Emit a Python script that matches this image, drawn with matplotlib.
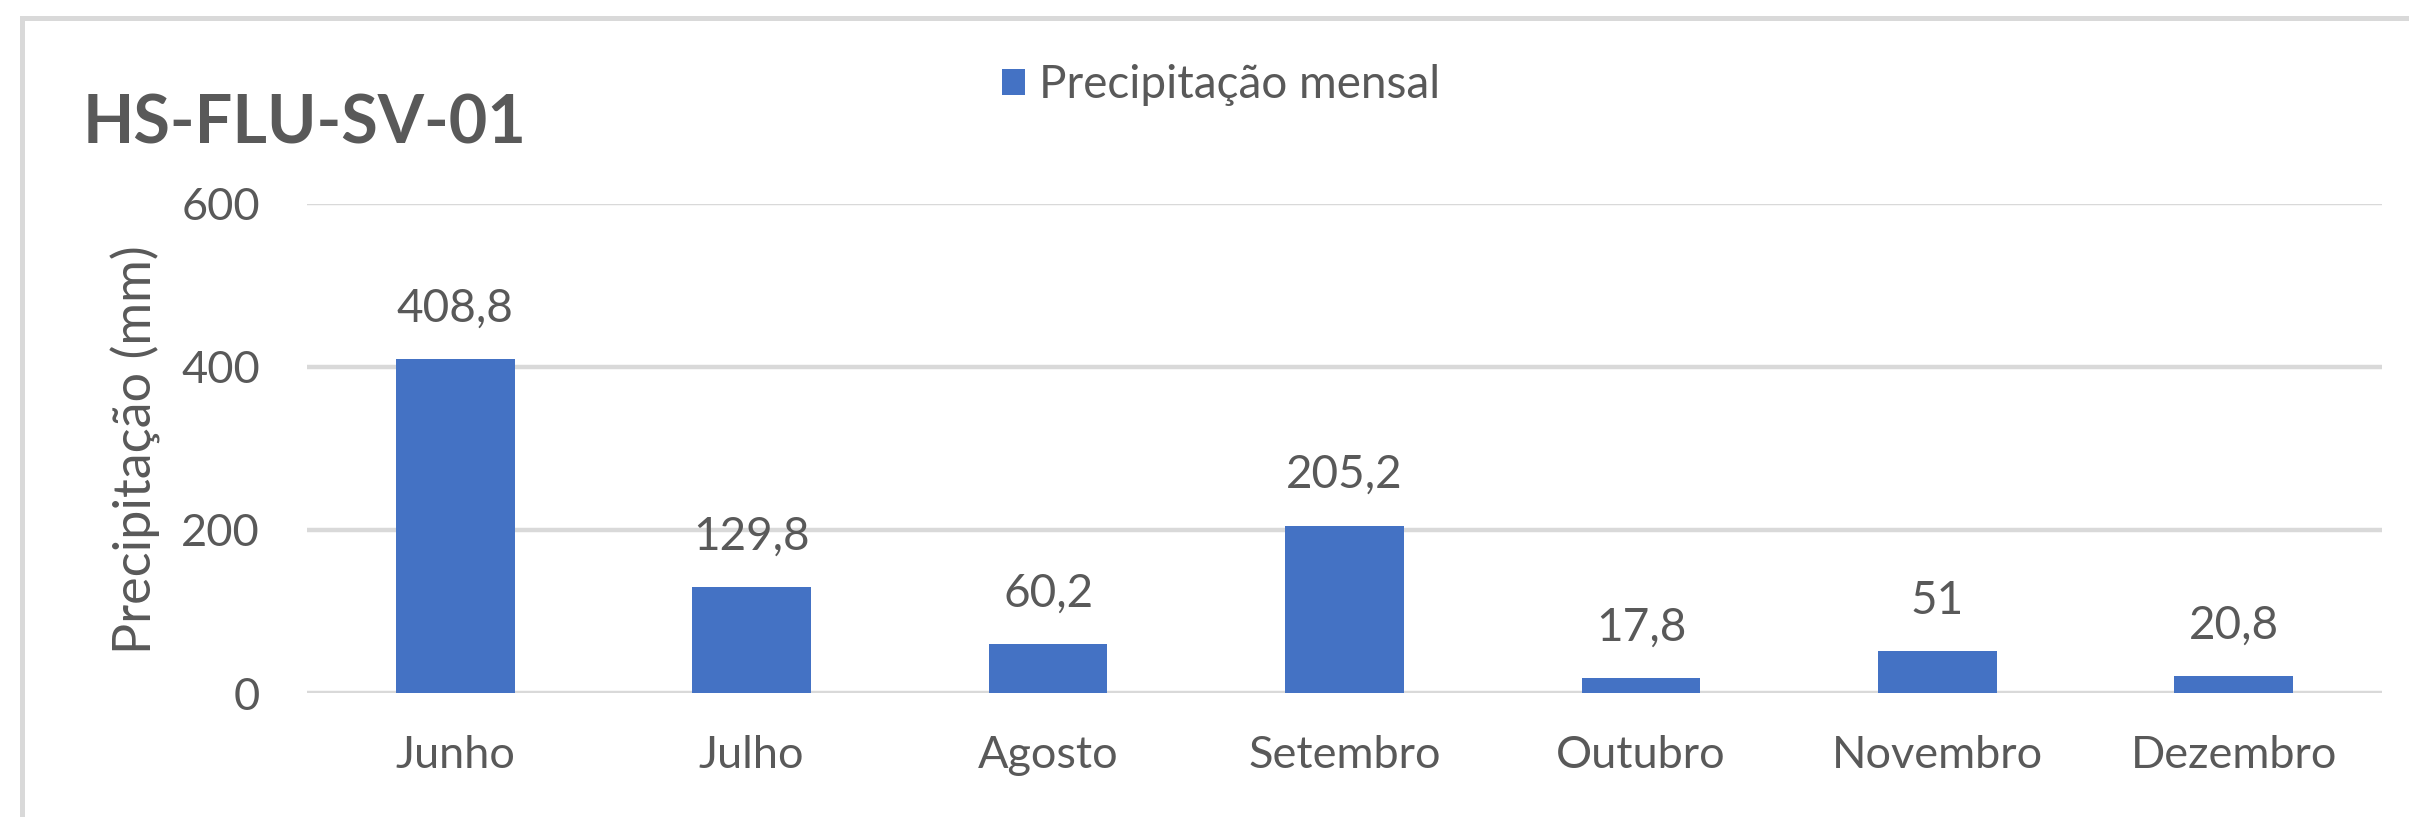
import matplotlib.pyplot as plt
from matplotlib.lines import Line2D
from matplotlib.patches import Patch

# monthly rainfall data
months = ['Junho', 'Julho', 'Agosto', 'Setembro', 'Outubro', 'Novembro', 'Dezembro']
rain = [408.8, 129.8, 60.2, 205.2, 17.8, 51, 20.8]
rain_labels = ['408,8', '129,8', '60,2', '205,2', '17,8', '51', '20,8']
y_ticks = [0, 200, 400, 600]

bar_color = '#4472C4'
text_color = '#595959'
grid_color = '#D9D9D9'

plt.rcParams['font.family'] = ['Lato', 'DejaVu Sans']

W, H = 2409, 817
fig = plt.figure(figsize=(W / 100, H / 100), dpi=100)
fig.patch.set_facecolor('white')

# axes placed in pixel terms
left, right, top, bottom = 307, 2382, 203.5, 693
ax = fig.add_axes([left / W, 1 - bottom / H, (right - left) / W, (bottom - top) / H])

x = list(range(len(months)))
ax.bar(x, rain, width=0.4, color=bar_color, zorder=3)
ax.set_xlim(-0.5, len(months) - 0.5)
ax.set_ylim(0, 600)
ax.set_yticks(y_ticks)
ax.set_xticks(x)
ax.set_xticklabels(months)

for s in ax.spines.values():
    s.set_visible(False)
ax.grid(axis='y', color=grid_color, linewidth=3.2, zorder=0)
ax.tick_params(axis='both', length=0, labelsize=32.5, labelcolor=text_color)
ax.tick_params(axis='y', pad=34)
ax.tick_params(axis='x', pad=30)

# value labels above bars
for xi, v, lab in zip(x, rain, rain_labels):
    ax.annotate(lab, (xi, v), xytext=(0, 27), textcoords='offset points',
                ha='center', va='baseline', fontsize=33, color=text_color)

# y label
fig.text(136 / W, 1 - 450 / H, 'Precipitação (mm)', rotation=90, ha='center',
         va='center', fontsize=37.5, color=text_color)

# title
fig.text(83 / W, 1 - 143 / H, 'HS-FLU-SV-01', ha='left', va='baseline',
         fontsize=48, fontweight='bold', color=text_color)

# legend
handle = Patch(facecolor=bar_color, edgecolor='none')
fig.legend([handle], ['Precipitação mensal'], loc='center',
           bbox_to_anchor=(1221 / W, 1 - 85 / H), frameon=False,
           fontsize=33, labelcolor=text_color, handlelength=0.5,
           handleheight=0.5, handletextpad=0.3, borderpad=0)

# chart area border (cropped at right and bottom)
fig.add_artist(Line2D([21.5 / W, 1.01], [1 - 17.5 / H, 1 - 17.5 / H],
                      transform=fig.transFigure, color=grid_color, linewidth=3.6))
fig.add_artist(Line2D([21.5 / W, 21.5 / W], [-0.01, 1 - 17.5 / H],
                      transform=fig.transFigure, color=grid_color, linewidth=3.6))

fig.savefig('out.png', dpi=100)
